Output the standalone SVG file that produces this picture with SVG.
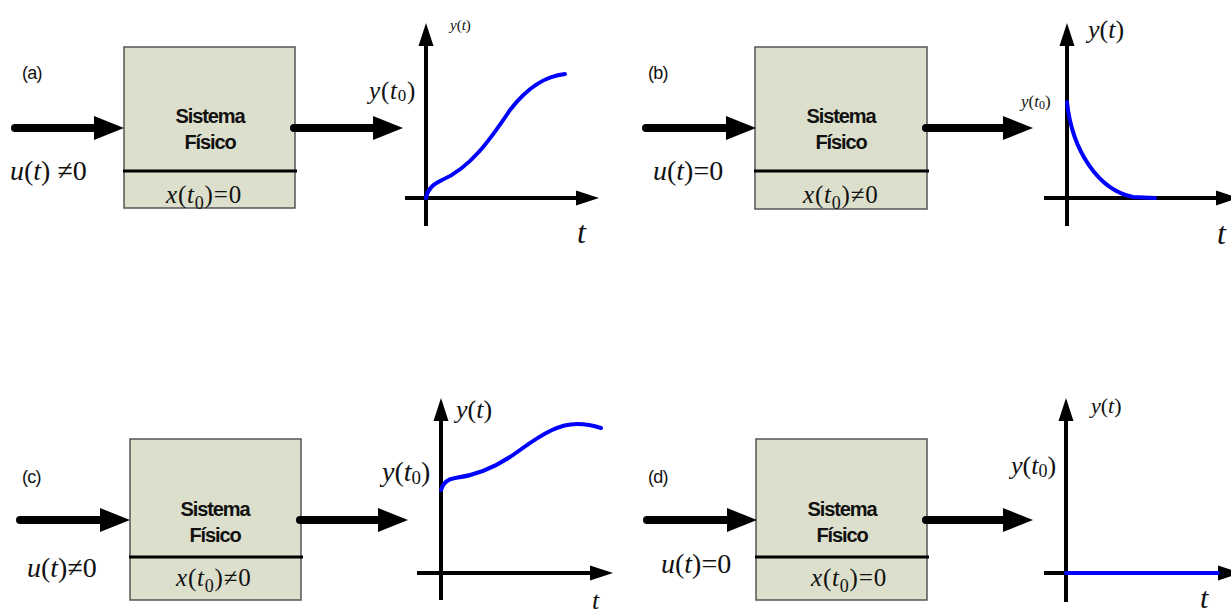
<svg xmlns="http://www.w3.org/2000/svg" width="1231" height="615" viewBox="0 0 1231 615">
<style>
.box{fill:#dbdfcb;stroke:#555;stroke-width:1.5}
.div{stroke:#000;stroke-width:3}
.bold{font-family:"Liberation Sans",Arial,sans-serif;font-weight:bold;font-size:20px;letter-spacing:-1.1px;text-anchor:middle;fill:#111}
.lab{font-family:"Liberation Sans",Arial,sans-serif;font-size:18px;letter-spacing:-0.8px;fill:#111}
.m{font-family:"Liberation Serif","Times New Roman",serif;fill:#111}
.i{font-style:italic}
.flow{stroke:#000;stroke-width:8;stroke-linecap:round;fill:none}
.axis{stroke:#000;stroke-width:4;fill:none}
.curve{stroke:#0000ff;stroke-width:4;fill:none;stroke-linecap:round}
</style>
<defs>
<marker id="big" markerUnits="userSpaceOnUse" markerWidth="32" markerHeight="26" refX="0" refY="12" orient="auto" viewBox="0 0 32 26" overflow="visible"><path d="M0,0 L30,12 L0,24 z" fill="#000"/></marker>
<marker id="ax" markerUnits="userSpaceOnUse" markerWidth="24" markerHeight="16" refX="0" refY="7.5" orient="auto" viewBox="0 0 24 16" overflow="visible"><path d="M0,0 L23,7.5 L0,15 z" fill="#000"/></marker>
</defs>

<!-- Panel (a) -->
<g id="label-a"><text class="lab" x="22" y="79">(a)</text></g>
<g id="system-a">
<rect class="box" x="124" y="47" width="171" height="161"/>
<line class="div" x1="123" y1="171" x2="297" y2="171"/>
<text class="bold" x="210" y="123">Sistema</text>
<text class="bold" x="210" y="149">Físico</text>
<text class="m" x="166" y="203" font-size="25" letter-spacing="0.8"><tspan class="i">x</tspan>(<tspan class="i">t</tspan><tspan font-size="18" dy="6">0</tspan><tspan dy="-6">)=0</tspan></text>
</g>
<g id="input-a-label"><text class="m" x="10" y="180" font-size="28"><tspan class="i">u</tspan>(<tspan class="i">t</tspan>) ≠0</text></g>
<g id="plot-a">
<line class="axis" x1="426" y1="226" x2="426" y2="46" marker-end="url(#ax)"/>
<line class="axis" x1="405" y1="198" x2="576" y2="198" marker-end="url(#ax)"/>
<path class="curve" d="M426,198 C428,188 434,184 442,180 C470,168 490,140 510,110 C530,84 548,76 565,74"/>
<text class="m" x="450" y="30" font-size="15"><tspan class="i">y</tspan>(<tspan class="i">t</tspan>)</text>
<text class="m" x="369" y="99" font-size="25" letter-spacing="0.8"><tspan class="i">y</tspan>(<tspan class="i">t</tspan><tspan font-size="17" dy="2">0</tspan><tspan dy="-2">)</tspan></text>
<text class="m i" x="577" y="243" font-size="32">t</text>
</g>

<!-- Panel (b) -->
<g id="label-b"><text class="lab" x="648" y="79">(b)</text></g>
<g id="system-b">
<rect class="box" x="755" y="47" width="172" height="162"/>
<line class="div" x1="754" y1="171" x2="929" y2="171"/>
<text class="bold" x="841" y="123">Sistema</text>
<text class="bold" x="841" y="149">Físico</text>
<text class="m" x="803" y="203" font-size="25" letter-spacing="0.8"><tspan class="i">x</tspan>(<tspan class="i">t</tspan><tspan font-size="18" dy="6">0</tspan><tspan dy="-6">)≠0</tspan></text>
</g>
<g id="input-b-label"><text class="m" x="653" y="180" font-size="28"><tspan class="i">u</tspan>(<tspan class="i">t</tspan>)=0</text></g>
<g id="plot-b">
<line class="axis" x1="1067" y1="226" x2="1067" y2="46" marker-end="url(#ax)"/>
<line class="axis" x1="1044" y1="198" x2="1216" y2="198" marker-end="url(#ax)"/>
<path class="curve" d="M1067,102 C1072,150 1098,190 1133,197 L1155,198"/>
<text class="m" x="1088" y="38" font-size="26"><tspan class="i">y</tspan>(<tspan class="i">t</tspan>)</text>
<text class="m" x="1021" y="107" font-size="17"><tspan class="i">y</tspan>(<tspan class="i">t</tspan><tspan font-size="12" dy="2">0</tspan><tspan dy="-2">)</tspan></text>
<text class="m i" x="1217" y="244" font-size="32">t</text>
</g>

<!-- Panel (c) -->
<g id="label-c"><text class="lab" x="22" y="483">(c)</text></g>
<g id="system-c">
<rect class="box" x="130" y="439" width="171" height="161"/>
<line class="div" x1="129" y1="557" x2="303" y2="557"/>
<text class="bold" x="215" y="516">Sistema</text>
<text class="bold" x="215" y="542">Físico</text>
<text class="m" x="176" y="586" font-size="25" letter-spacing="0.8"><tspan class="i">x</tspan>(<tspan class="i">t</tspan><tspan font-size="18" dy="6">0</tspan><tspan dy="-6">)≠0</tspan></text>
</g>
<g id="input-c-label"><text class="m" x="27" y="577" font-size="28"><tspan class="i">u</tspan>(<tspan class="i">t</tspan>)≠0</text></g>
<g id="plot-c">
<line class="axis" x1="441" y1="600" x2="441" y2="421" marker-end="url(#ax)"/>
<line class="axis" x1="417" y1="573" x2="590" y2="573" marker-end="url(#ax)"/>
<path class="curve" d="M441,490 C443,482 448,479 455,478 C480,475 500,465 520,450 C545,432 560,424 577,424 C588,424 595,426 601,428"/>
<text class="m" x="456" y="418" font-size="26"><tspan class="i">y</tspan>(<tspan class="i">t</tspan>)</text>
<text class="m" x="382" y="481" font-size="28"><tspan class="i">y</tspan>(<tspan class="i">t</tspan><tspan font-size="19" dy="3">0</tspan><tspan dy="-3">)</tspan></text>
<text class="m i" x="592" y="609" font-size="26">t</text>
</g>

<!-- Panel (d) -->
<g id="label-d"><text class="lab" x="648" y="483">(d)</text></g>
<g id="system-d">
<rect class="box" x="756" y="439" width="171" height="161"/>
<line class="div" x1="755" y1="557" x2="929" y2="557"/>
<text class="bold" x="842" y="516">Sistema</text>
<text class="bold" x="842" y="542">Físico</text>
<text class="m" x="811" y="586" font-size="25" letter-spacing="0.8"><tspan class="i">x</tspan>(<tspan class="i">t</tspan><tspan font-size="18" dy="6">0</tspan><tspan dy="-6">)=0</tspan></text>
</g>
<g id="input-d-label"><text class="m" x="661" y="573" font-size="28"><tspan class="i">u</tspan>(<tspan class="i">t</tspan>)=0</text></g>
<g id="plot-d">
<line class="axis" x1="1066" y1="602" x2="1066" y2="421" marker-end="url(#ax)"/>
<line class="axis" x1="1044" y1="573" x2="1218" y2="573" marker-end="url(#ax)"/>
<line class="curve" x1="1066" y1="573" x2="1218" y2="573" stroke-linecap="butt"/>
<text class="m" x="1091" y="413" font-size="22"><tspan class="i">y</tspan>(<tspan class="i">t</tspan>)</text>
<text class="m" x="1011" y="474" font-size="26"><tspan class="i">y</tspan>(<tspan class="i">t</tspan><tspan font-size="18" dy="3">0</tspan><tspan dy="-3">)</tspan></text>
<text class="m i" x="1200" y="608" font-size="30">t</text>
</g>

<!-- Connectors -->
<g id="connectors">
<line class="flow" x1="15" y1="128" x2="94" y2="128" marker-end="url(#big)"/>
<line class="flow" x1="294" y1="128" x2="373" y2="128" marker-end="url(#big)"/>
<line class="flow" x1="646" y1="128" x2="726" y2="128" marker-end="url(#big)"/>
<line class="flow" x1="926" y1="128" x2="1003" y2="128" marker-end="url(#big)"/>
<line class="flow" x1="20" y1="520" x2="100" y2="520" marker-end="url(#big)"/>
<line class="flow" x1="300" y1="520" x2="378" y2="520" marker-end="url(#big)"/>
<line class="flow" x1="647" y1="520" x2="727" y2="520" marker-end="url(#big)"/>
<line class="flow" x1="926" y1="520" x2="1003" y2="520" marker-end="url(#big)"/>
</g>
</svg>
